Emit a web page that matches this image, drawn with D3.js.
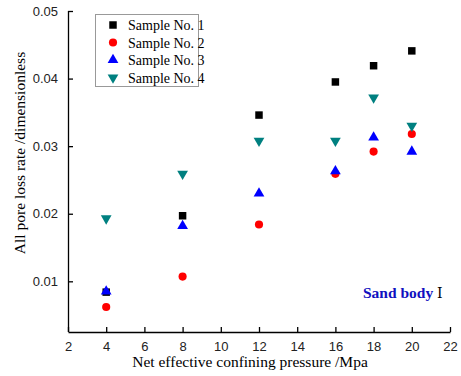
<!DOCTYPE html>
<html><head><meta charset="utf-8">
<script src="https://cdn.jsdelivr.net/npm/d3@7"></script>
<style>body{margin:0;background:#fff}</style>
</head><body>
<svg id="c" width="461" height="376"></svg>
<script>
const pressures = [4, 8, 12, 16, 18, 20];
const sample1 = [0.0084, 0.0197, 0.0346, 0.0395, 0.0419, 0.0441];
const sample2 = [0.0062, 0.0107, 0.0184, 0.0259, 0.0292, 0.0318];
const sample3 = [0.0085, 0.0182, 0.0230, 0.0263, 0.0313, 0.0292];
const sample4 = [0.0193, 0.0259, 0.0308, 0.0308, 0.0372, 0.0330];
const seriesNames = ["Sample No. 1", "Sample No. 2", "Sample No. 3", "Sample No. 4"];
const xTicks = [2, 4, 6, 8, 10, 12, 14, 16, 18, 20, 22];
const yTicks = [0.01, 0.02, 0.03, 0.04, 0.05];

const SERIF = "'Liberation Serif', 'Times New Roman', serif";
const SANS = "'Liberation Sans', Arial, sans-serif";
const colors = ["#000000", "#ff0000", "#0000ff", "#008080"];
const symbols = [d3.symbolSquare, d3.symbolCircle, d3.symbolTriangle, d3.symbolTriangle];
const sizes = [56, 52, 50, 50];
const rotations = [0, 0, 0, 180];
const allSeries = [sample1, sample2, sample3, sample4];

const svg = d3.select("#c");
const x = d3.scaleLinear().domain([2, 22]).range([68, 450]);
const y = d3.scaleLinear().domain([0.0025, 0.05]).range([332, 11]);

const gx = svg.append("g").attr("transform", "translate(0,332)")
  .call(d3.axisBottom(x).tickValues(xTicks).tickSizeInner(-5).tickSizeOuter(0).tickPadding(10));
const gy = svg.append("g").attr("transform", "translate(68,0)")
  .call(d3.axisLeft(y).tickValues(yTicks).tickSizeInner(-5).tickSizeOuter(0).tickPadding(10).tickFormat(d3.format(".2f")));
[gx, gy].forEach(g => {
  g.selectAll("path,line").attr("stroke", "#000").attr("stroke-width", 1.3);
  g.selectAll("text").attr("font-family", SANS).attr("font-size", 13).attr("fill", "#222");
});
gy.select(".domain").attr("d", `M0.5,${y(0.05)}V332`);

svg.append("text").attr("x", 250).attr("y", 367).attr("text-anchor", "middle")
  .attr("font-family", SERIF).attr("font-size", 15.5)
  .text("Net effective confining pressure /Mpa");
svg.append("text").attr("transform", "translate(25,153) rotate(-90)").attr("text-anchor", "middle")
  .attr("font-family", SERIF).attr("font-size", 15.5)
  .text("All pore loss rate /dimensionless");

allSeries.forEach((vals, i) => {
  svg.append("g").selectAll("path").data(vals).join("path")
    .attr("d", d3.symbol(symbols[i], sizes[i]))
    .attr("transform", (d, j) => `translate(${x(pressures[j])},${y(d)}) rotate(${rotations[i]})`)
    .attr("fill", colors[i]);
});

// legend
const lg = svg.append("g");
lg.append("rect").attr("x", 95.5).attr("y", 14.5).attr("width", 103).attr("height", 72)
  .attr("fill", "#fff").attr("stroke", "#999").attr("stroke-width", 1);
seriesNames.forEach((n, i) => {
  const yy = 25 + i * 17.5;
  lg.append("path").attr("d", d3.symbol(symbols[i], sizes[i])).attr("fill", colors[i])
    .attr("transform", `translate(113,${yy}) rotate(${rotations[i]})`);
  lg.append("text").attr("x", 128).attr("y", yy + 5)
    .attr("font-family", SERIF).attr("font-size", 14)
    .text(n);
});

const t = svg.append("text").attr("x", 363).attr("y", 298)
  .attr("font-family", SERIF).attr("font-size", 15.5);
t.append("tspan").attr("fill", "#1010c0").attr("font-weight", "bold").text("Sand body ");
t.append("tspan").attr("fill", "#000").attr("font-family", "'DejaVu Serif', serif").attr("font-size", 14).text("Ⅰ");
</script>
</body></html>
